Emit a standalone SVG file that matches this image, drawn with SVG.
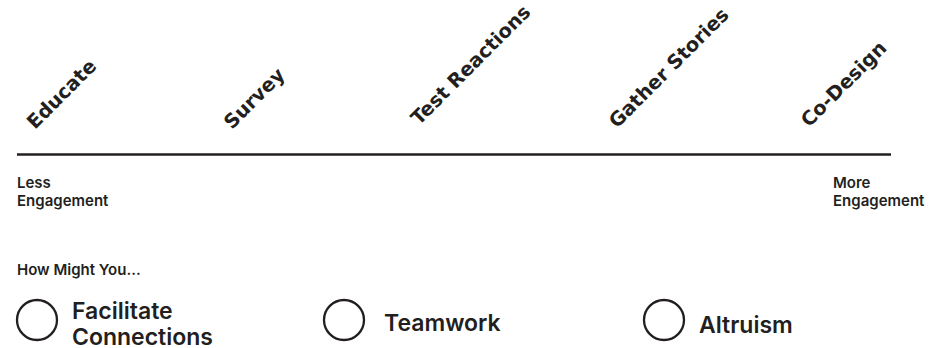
<svg xmlns="http://www.w3.org/2000/svg" width="947" height="348" viewBox="0 0 947 348">
<style>
.stage{font-family:"DejaVu Sans","Liberation Sans",sans-serif;font-weight:bold;font-size:19.5px;fill:#231f20}
.small{font-family:Inter,"Liberation Sans",sans-serif;font-weight:600;font-size:15px;fill:#231f20}
.opt{font-family:Inter,"Liberation Sans",sans-serif;font-weight:600;font-size:23px;fill:#231f20}
.ring{fill:none;stroke:#231f20;stroke-width:2.3}
</style>
<rect width="947" height="348" fill="#fff"/>
<g id="connectors">
<line x1="17" y1="154.5" x2="891" y2="154.5" stroke="#231f20" stroke-width="2.6"/>
</g>
<g id="stage-educate"><text class="stage" transform="translate(35,130) rotate(-45)">Educate</text></g>
<g id="stage-survey"><text class="stage" transform="translate(232,130) rotate(-45)">Survey</text></g>
<g id="stage-test"><text class="stage" transform="translate(419,126) rotate(-45)">Test Reactions</text></g>
<g id="stage-gather"><text class="stage" transform="translate(617,129) rotate(-45)">Gather Stories</text></g>
<g id="stage-codesign"><text class="stage" transform="translate(809,128) rotate(-45)">Co-Design</text></g>
<g id="label-less"><text class="small" x="17" y="188">Less</text><text class="small" x="17" y="206">Engagement</text></g>
<g id="label-more"><text class="small" x="833" y="188">More</text><text class="small" x="833" y="206">Engagement</text></g>
<g id="label-hmy"><text class="small" x="17" y="275">How Might You...</text></g>
<g id="opt-facilitate"><circle class="ring" cx="37" cy="320" r="20"/><text class="opt" x="72" y="319">Facilitate</text><text class="opt" x="72" y="345">Connections</text></g>
<g id="opt-teamwork"><circle class="ring" cx="344" cy="320" r="20"/><text class="opt" x="384" y="331">Teamwork</text></g>
<g id="opt-altruism"><circle class="ring" cx="664" cy="320" r="20"/><text class="opt" x="699" y="333">Altruism</text></g>
</svg>
